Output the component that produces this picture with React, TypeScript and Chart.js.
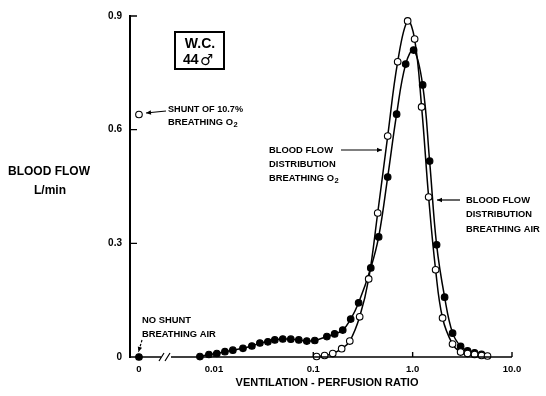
import React, { useEffect, useRef } from 'react';
import { Chart, registerables } from 'chart.js';

Chart.register(...registerables);

// Position on the log axis used for the "0" category (left of the axis break)
const ZERO_POS = 0.00176;
const X_MIN = 0.00143;
const X_MAX = 10;
const X_TICKS = [ZERO_POS, 0.01, 0.1, 1, 10];
const X_TICK_LABELS = ['0', '0.01', '0.1', '1.0', '10.0'];
const Y_TICKS = [0, 0.3, 0.6, 0.9];
const Y_TICK_LABELS = ['0', '0.3', '0.6', '0.9'];

// Blood flow distribution breathing air (filled dots)
const AIR_VQ = [0.00723, 0.0089, 0.0107, 0.0129, 0.0155, 0.0196, 0.0241, 0.029, 0.0349, 0.041, 0.0493, 0.0594, 0.0715, 0.086, 0.1035, 0.137, 0.164, 0.198, 0.238, 0.286, 0.379, 0.455, 0.561, 0.69, 0.851, 1.023, 1.261, 1.482, 1.743, 2.098, 2.524, 3.04, 3.57, 4.2, 4.94];
const AIR_FLOW = [0.001, 0.0066, 0.0092, 0.014, 0.018, 0.023, 0.029, 0.037, 0.04, 0.045, 0.0475, 0.047, 0.045, 0.042, 0.0435, 0.054, 0.061, 0.071, 0.1, 0.143, 0.235, 0.317, 0.475, 0.641, 0.773, 0.81, 0.718, 0.517, 0.296, 0.158, 0.063, 0.028, 0.016, 0.011, 0.007];

// Blood flow distribution breathing O2 (open dots)
const O2_VQ = [0.108, 0.13, 0.157, 0.193, 0.233, 0.293, 0.361, 0.445, 0.561, 0.707, 0.891, 1.047, 1.231, 1.449, 1.703, 2.0, 2.52, 3.04, 3.57, 4.2, 4.94, 5.67];
const O2_FLOW = [0.0013, 0.004, 0.009, 0.022, 0.042, 0.106, 0.206, 0.38, 0.583, 0.779, 0.887, 0.839, 0.66, 0.422, 0.23, 0.103, 0.034, 0.013, 0.009, 0.0066, 0.004, 0.0026];

// Shunt values at V/Q = 0
const SHUNT_O2 = 0.64;
const NO_SHUNT_AIR = 0;

const LF = '"Liberation Sans", Arial, sans-serif';
const DF = '"DejaVu Sans", sans-serif';

function arrow(ctx: CanvasRenderingContext2D, x1: number, y1: number, x2: number, y2: number, dashed = false) {
  ctx.save();
  ctx.lineWidth = 1.2;
  if (dashed) ctx.setLineDash([2.5, 1.5]);
  ctx.beginPath();
  ctx.moveTo(x1, y1);
  ctx.lineTo(x2, y2);
  ctx.stroke();
  ctx.setLineDash([]);
  const a = Math.atan2(y2 - y1, x2 - x1);
  const L = 5, W = 2.2;
  ctx.beginPath();
  ctx.moveTo(x2, y2);
  ctx.lineTo(x2 - L * Math.cos(a) + W * Math.sin(a), y2 - L * Math.sin(a) - W * Math.cos(a));
  ctx.lineTo(x2 - L * Math.cos(a) - W * Math.sin(a), y2 - L * Math.sin(a) + W * Math.cos(a));
  ctx.closePath();
  ctx.fill();
  ctx.restore();
}

function textSub(ctx: CanvasRenderingContext2D, main: string, sub: string, x: number, y: number, size: number, maxW?: number) {
  ctx.font = `bold ${size}px ${LF}`;
  const w = Math.min(ctx.measureText(main).width, maxW ?? 1e9);
  ctx.fillText(main, x, y, maxW);
  ctx.font = `bold ${size * 0.8}px ${LF}`;
  ctx.fillText(sub, x + w + 0.5, y + size * 0.3);
}

const decor = {
  id: 'decor',
  afterDraw(chart: any) {
    const ctx: CanvasRenderingContext2D = chart.ctx;
    const xs = chart.scales.x;
    const ys = chart.scales.y;
    const { left, right, bottom } = chart.chartArea;
    ctx.save();
    ctx.strokeStyle = '#000';
    ctx.fillStyle = '#000';

    // x axis with break
    ctx.lineWidth = 1.6;
    ctx.beginPath();
    ctx.moveTo(left, bottom);
    ctx.lineTo(161, bottom);
    ctx.moveTo(171, bottom);
    ctx.lineTo(right, bottom);
    ctx.stroke();
    ctx.lineWidth = 1.2;
    ctx.beginPath();
    ctx.moveTo(159, bottom + 4);
    ctx.lineTo(164, bottom - 4);
    ctx.moveTo(165, bottom + 4);
    ctx.lineTo(170, bottom - 4);
    ctx.stroke();

    // inward ticks
    ctx.lineWidth = 1.4;
    ctx.beginPath();
    Y_TICKS.slice(1).forEach((v) => {
      const y = ys.getPixelForValue(v);
      ctx.moveTo(left, y);
      ctx.lineTo(left + 7, y);
    });
    X_TICKS.slice(1).forEach((v) => {
      const x = xs.getPixelForValue(v);
      ctx.moveTo(x, bottom);
      ctx.lineTo(x, bottom - 5);
    });
    ctx.stroke();

    // Y title
    ctx.textAlign = 'center';
    ctx.textBaseline = 'middle';
    ctx.font = `bold 12px ${LF}`;
    ctx.fillText('BLOOD FLOW', 49, 172, 82);
    ctx.fillText('L/min', 50, 191);

    // X title
    ctx.font = `bold 11px ${LF}`;
    ctx.fillText('VENTILATION - PERFUSION RATIO', 327, 383, 186);

    // box
    ctx.lineWidth = 2;
    ctx.strokeRect(175, 32, 49, 37);
    ctx.font = `bold 14px ${LF}`;
    ctx.fillText('W.C.', 200, 44, 36);
    ctx.textAlign = 'left';
    ctx.fillText('44', 183, 60);
    ctx.font = `bold 15px ${DF}`;
    ctx.fillText('\u2642', 200, 61);

    // annotations
    const fs = 9.4;
    ctx.font = `bold ${fs}px ${LF}`;
    ctx.fillText('SHUNT OF 10.7%', 168, 109, 75);
    textSub(ctx, 'BREATHING O', '2', 168, 122, fs, 68);
    arrow(ctx, 166, 111, 146, 113);

    ctx.font = `bold ${fs}px ${LF}`;
    ctx.fillText('NO SHUNT', 142, 320, 51);
    ctx.fillText('BREATHING AIR', 142, 334, 75);
    arrow(ctx, 142, 340, 138.5, 352, true);

    ctx.font = `bold ${fs}px ${LF}`;
    ctx.fillText('BLOOD FLOW', 269, 150, 64);
    ctx.fillText('DISTRIBUTION', 269, 164, 68);
    textSub(ctx, 'BREATHING O', '2', 269, 178, fs, 66);
    arrow(ctx, 341, 150, 382, 150);

    ctx.font = `bold ${fs}px ${LF}`;
    ctx.fillText('BLOOD FLOW', 466, 200, 64);
    ctx.fillText('DISTRIBUTION', 466, 214, 66);
    ctx.fillText('BREATHING AIR', 466, 229, 80);
    arrow(ctx, 460, 200, 437, 200);

    ctx.restore();
  },
};

export default function App() {
  const ref = useRef<HTMLCanvasElement>(null);
  useEffect(() => {
    document.body.style.margin = '0';
    const canvas = ref.current;
    if (!canvas) return;
    const airData = AIR_VQ.map((x, i) => ({ x, y: AIR_FLOW[i] }));
    const o2Data = O2_VQ.map((x, i) => ({ x, y: O2_FLOW[i] }));
    const pt = { pointRadius: 3.3, pointHoverRadius: 3.3, pointBorderColor: '#000', pointBorderWidth: 1.1 };
    const chart = new Chart(canvas, {
      type: 'line',
      data: {
        datasets: [
          { label: 'Shunt O2', data: [{ x: ZERO_POS, y: SHUNT_O2 }], showLine: false, pointBackgroundColor: '#fff', clip: false, ...pt } as any,
          { label: 'No shunt air', data: [{ x: ZERO_POS, y: NO_SHUNT_AIR }], showLine: false, pointBackgroundColor: '#000', clip: false, ...pt } as any,
          { label: 'O2', data: o2Data, borderColor: '#000', borderWidth: 1.5, tension: 0.4, pointBackgroundColor: '#fff', clip: false, ...pt } as any,
          { label: 'Air', data: airData, borderColor: '#000', borderWidth: 1.5, tension: 0.4, pointBackgroundColor: '#000', clip: false, ...pt } as any,
        ],
      },
      options: {
        responsive: false,
        animation: false,
        events: [],
        layout: { padding: { top: 16, right: 34, left: 0, bottom: 0 } },
        plugins: { legend: { display: false }, tooltip: { enabled: false } },
        scales: {
          x: {
            type: 'logarithmic',
            min: X_MIN,
            max: X_MAX,
            grid: { display: false, drawTicks: false },
            border: { display: false },
            afterBuildTicks: (s: any) => { s.ticks = X_TICKS.map((v) => ({ value: v })); },
            afterFit: (s: any) => { s.height = 39; },
            ticks: {
              autoSkip: false,
              maxRotation: 0,
              padding: 7,
              color: '#000',
              font: { family: LF, weight: 'bold', size: 9.5 },
              callback: (_v: any, i: number) => X_TICK_LABELS[i],
            },
          },
          y: {
            type: 'linear',
            min: 0,
            max: 0.9,
            grid: { display: false, drawTicks: false },
            border: { display: true, color: '#000', width: 2 },
            afterBuildTicks: (s: any) => { s.ticks = Y_TICKS.map((v) => ({ value: v })); },
            afterFit: (s: any) => { s.width = 130; },
            ticks: {
              padding: 8,
              color: '#000',
              font: { family: LF, weight: 'bold', size: 10 },
              callback: (_v: any, i: number) => Y_TICK_LABELS[i],
            },
          },
        },
      },
      plugins: [decor],
    });
    return () => chart.destroy();
  }, []);
  return (
    <div style={{ width: 546, height: 396, overflow: 'hidden', background: '#fff' }}>
      <canvas ref={ref} width={546} height={396} style={{ display: 'block' }} />
    </div>
  );
}
